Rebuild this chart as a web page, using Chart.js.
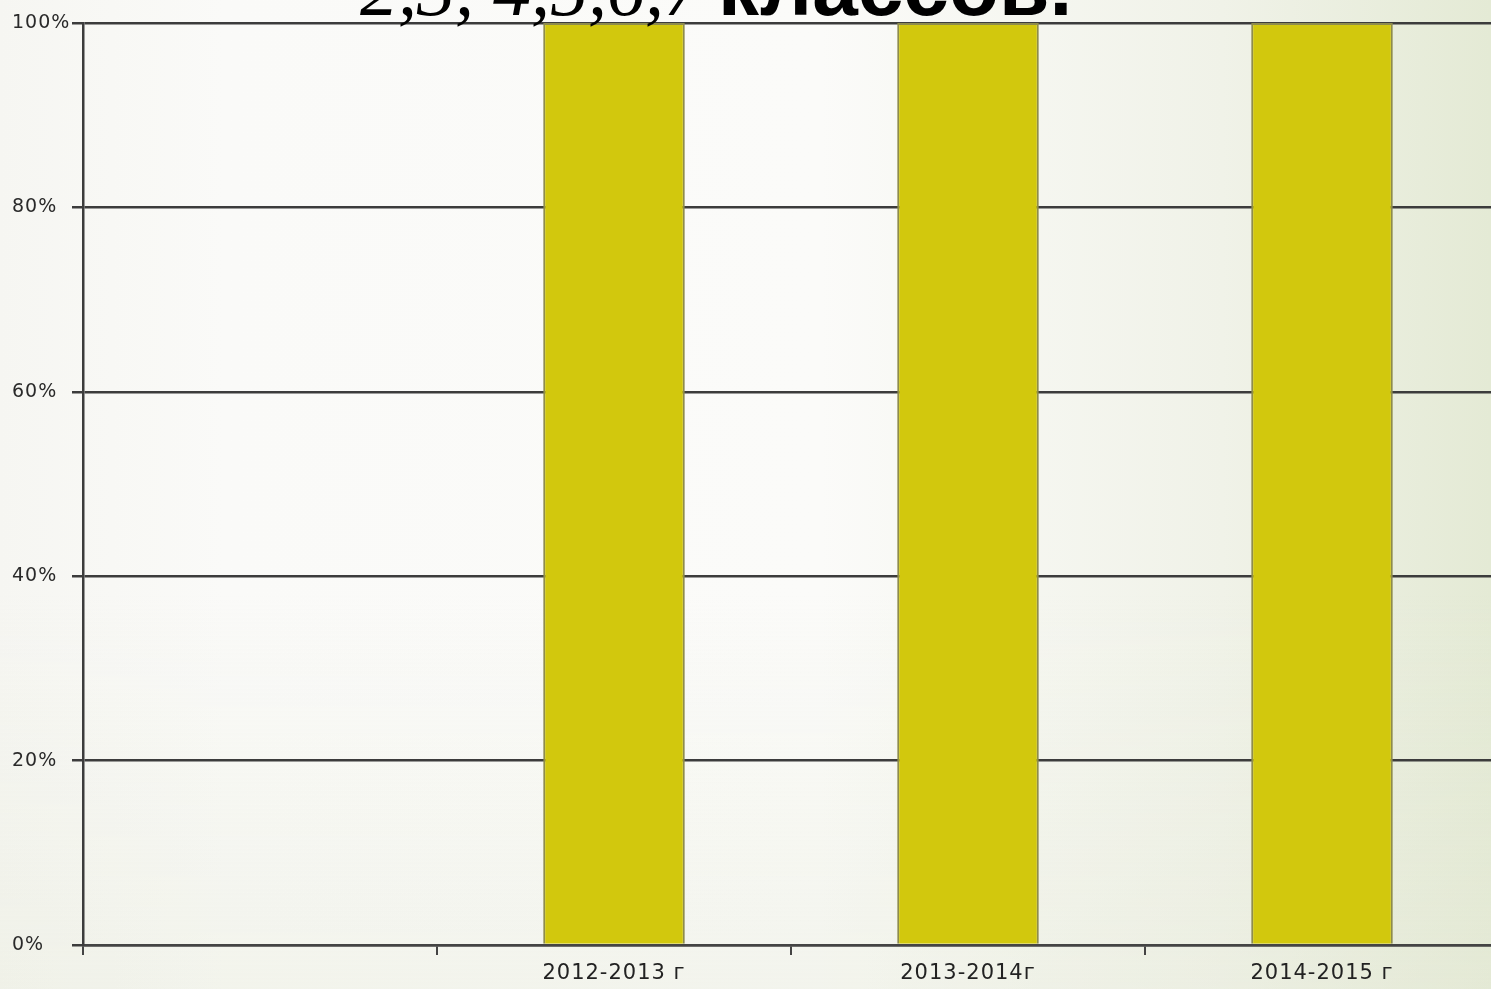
<!DOCTYPE html>
<html>
<head>
<meta charset="utf-8">
<script src="https://cdn.jsdelivr.net/npm/chart.js@4/dist/chart.umd.min.js"></script>
<style>
  html, body { margin: 0; padding: 0; overflow: hidden; }
  body {
    width: 1491px; height: 989px;
    background:
      linear-gradient(180deg, rgba(255,255,255,0) 60%, rgba(228,232,214,0.35) 100%),
      linear-gradient(90deg, #f6f6f2 0%, #fafaf8 15%, #fbfbf9 55%, #f0f2e8 82%, #e4ead5 100%);
  }
  #wrap { position: absolute; left: 0; top: 0; width: 1500px; height: 989px; }
</style>
</head>
<body>
<div id="wrap"><canvas id="barChart"></canvas></div>
<script>
  const categories = ['', '2012-2013 г', '2013-2014г', '2014-2015 г'];
  const values = [null, 100, 100, 100];
  const yTicks = [0, 20, 40, 60, 80, 100];
  const titleDigits = '2,3, 4,5,6,7';
  const titleWord = 'классов.';

  // the tick labels in the picture are a bit wide, space the letters out slightly
  const wideLabels = {
    id: 'wideLabels',
    beforeDraw(chart) { chart.ctx.letterSpacing = '1px'; }
  };

  // the title is cut off at the top edge, only its lower part shows
  const cutTitle = {
    id: 'cutTitle',
    afterDraw(chart) {
      const ctx = chart.ctx;
      ctx.save();
      ctx.letterSpacing = '0px';
      ctx.fillStyle = '#000';
      ctx.textBaseline = 'alphabetic';
      ctx.font = 'italic 76px "Liberation Serif"';
      ctx.fillText(titleDigits, 360, 15);
      ctx.font = 'bold 82px "Liberation Sans"';
      ctx.fillText(titleWord, 718, 15);
      ctx.restore();
    }
  };

  new Chart(
    document.getElementById('barChart'),
    {
      type: 'bar',
      data: {
        labels: categories,
        datasets: [
          {
            data: values,
            backgroundColor: '#d2c80d',
            borderColor: '#8e8c4c',
            borderWidth: 2,
            barPercentage: 0.4,
            categoryPercentage: 1
          }
        ]
      },
      options: {
        responsive: true,
        maintainAspectRatio: false,
        animation: false,
        layout: { padding: { left: 12, top: 23, right: 1, bottom: 0 } },
        plugins: {
          legend: { display: false },
          tooltip: { enabled: false }
        },
        scales: {
          x: {
            offset: true,
            grid: { display: true, drawOnChartArea: false, drawTicks: true, tickLength: 10, color: '#444', lineWidth: 2 },
            border: { display: true, color: '#444', width: 2.5 },
            ticks: { color: '#222', font: { family: 'DejaVu Sans', size: 21 }, padding: 6, maxRotation: 0 },
            afterFit(axis) { axis.height = 44; }
          },
          y: {
            min: 0,
            max: 100,
            afterBuildTicks(axis) { axis.ticks = yTicks.map(v => ({ value: v })); },
            grid: { color: '#3c3c3c', lineWidth: 2.5, tickLength: 11 },
            border: { display: true, color: '#3c3c3c', width: 2.5 },
            ticks: {
              color: '#2a2a2a',
              crossAlign: 'far',
              font: { family: 'DejaVu Sans', size: 19 },
              callback: v => v + '%'
            },
            afterFit(axis) { axis.width = 71; }
          }
        }
      },
      plugins: [wideLabels, cutTitle]
    }
  );
</script>
</body>
</html>
